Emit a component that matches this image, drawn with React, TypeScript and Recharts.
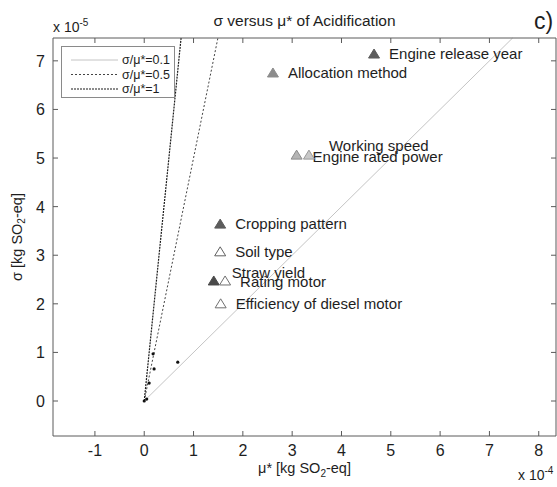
import {
  ScatterChart,
  Scatter,
  XAxis,
  YAxis,
  ReferenceLine,
} from "recharts";

// morris screening factors, mu* in 1e-4, sigma in 1e-5 kg SO2-eq
const factorNames = [
  "Engine release year",
  "Allocation method",
  "Engine rated power",
  "Working speed",
  "Cropping pattern",
  "Soil type",
  "Straw yield",
  "Rating motor",
  "Efficiency of diesel motor",
];
const muStar = [4.66, 2.61, 3.09, 3.34, 1.54, 1.54, 1.41, 1.64, 1.55];
const sigma = [7.14, 6.75, 5.06, 5.06, 3.64, 3.07, 2.47, 2.47, 2.0];

// unlabeled factors near the origin
const muSmall = [0, 0.05, 0.1, 0.18, 0.2, 0.68];
const sigmaSmall = [0, 0.04, 0.37, 0.97, 0.66, 0.8];

const ratios = [0.1, 0.5, 1];
const ratioLabels = ["σ/μ*=0.1", "σ/μ*=0.5", "σ/μ*=1"];

const xTicks = [-1, 0, 1, 2, 3, 4, 5, 6, 7, 8];
const yTicks = [0, 1, 2, 3, 4, 5, 6, 7];
const X_DOMAIN: [number, number] = [-1.85, 8.35];
const Y_DOMAIN: [number, number] = [-0.72, 7.47];

const FONT = "'Liberation Sans', Arial, sans-serif";
const AXIS = "#5a5a5a";
const TEXT = "#1e1e1e";

const markerStyle: Record<string, { fill: string; stroke: string }> = {
  "Engine release year": { fill: "#5c5c5c", stroke: "#5c5c5c" },
  "Allocation method": { fill: "#8c8c8c", stroke: "#8c8c8c" },
  "Engine rated power": { fill: "#b4b4b4", stroke: "#8c8c8c" },
  "Working speed": { fill: "#c8c8c8", stroke: "#9a9a9a" },
  "Cropping pattern": { fill: "#5c5c5c", stroke: "#5c5c5c" },
  "Soil type": { fill: "#ffffff", stroke: "#606060" },
  "Straw yield": { fill: "#4a4a4a", stroke: "#4a4a4a" },
  "Rating motor": { fill: "#ffffff", stroke: "#707070" },
  "Efficiency of diesel motor": { fill: "#ffffff", stroke: "#707070" },
};

// label offsets relative to the marker (px)
const labelOffset: Record<string, [number, number]> = {
  "Working speed": [20, -9],
  "Engine rated power": [16, 2],
  "Straw yield": [18, -8],
  "Rating motor": [15, 1],
};

const ratioStyle = [
  { stroke: "#c4c4c4", width: 1, dash: undefined },
  { stroke: "#444444", width: 1, dash: "2 2" },
  { stroke: "#1a1a1a", width: 1.2, dash: "2 1" },
];

const factorData = factorNames.map((name, i) => ({
  name,
  x: muStar[i],
  y: sigma[i],
}));
const smallData = muSmall.map((x, i) => ({ x, y: sigmaSmall[i] }));

const Triangle = (props: any) => {
  const { cx, cy, payload } = props;
  if (cx == null || cy == null) return null;
  const s = markerStyle[payload.name];
  const [dx, dy] = labelOffset[payload.name] || [15, 0];
  return (
    <g>
      <polygon
        points={`${cx},${cy - 5} ${cx - 5.5},${cy + 4} ${cx + 5.5},${cy + 4}`}
        fill={s.fill}
        stroke={s.stroke}
        strokeWidth={1}
      />
      <text
        x={cx + dx}
        y={cy + dy + 5}
        fontSize={15}
        fontFamily={FONT}
        fill={TEXT}
      >
        {payload.name}
      </text>
    </g>
  );
};

const Dot = (props: any) => {
  const { cx, cy } = props;
  if (cx == null || cy == null) return null;
  return <circle cx={cx} cy={cy} r={1.6} fill="#111" />;
};

const BottomTick = ({ x, y, payload }: any) => (
  <g>
    <line x1={x} y1={y} x2={x} y2={y - 5} stroke={AXIS} />
    <text
      x={x}
      y={y + 20}
      textAnchor="middle"
      fontSize={16}
      fontFamily={FONT}
      fill={TEXT}
    >
      {payload.value}
    </text>
  </g>
);
const TopTick = ({ x, y }: any) => (
  <line x1={x} y1={y} x2={x} y2={y + 5} stroke={AXIS} />
);
const LeftTick = ({ x, y, payload }: any) => (
  <g>
    <line x1={x} y1={y} x2={x + 5} y2={y} stroke={AXIS} />
    <text
      x={x - 8}
      y={y + 6}
      textAnchor="end"
      fontSize={16}
      fontFamily={FONT}
      fill={TEXT}
    >
      {payload.value}
    </text>
  </g>
);
const RightTick = ({ x, y }: any) => (
  <line x1={x} y1={y} x2={x - 5} y2={y} stroke={AXIS} />
);

export default function App() {
  const yTop = Y_DOMAIN[1];
  return (
    <div
      style={{
        position: "absolute",
        left: 0,
        top: 0,
        width: 557,
        height: 487,
        background: "#fff",
        fontFamily: FONT,
        color: TEXT,
      }}
    >
      <ScatterChart
        width={557}
        height={487}
        margin={{ top: 37, right: 0, bottom: 50, left: 52 }}
      >
        <XAxis
          xAxisId="b"
          type="number"
          dataKey="x"
          domain={X_DOMAIN}
          ticks={xTicks}
          allowDataOverflow
          height={1}
          tickSize={0}
          tickMargin={0}
          tickLine={false}
          axisLine={{ stroke: AXIS }}
          tick={BottomTick}
          interval={0}
        />
        <XAxis
          xAxisId="t"
          orientation="top"
          type="number"
          dataKey="x"
          domain={X_DOMAIN}
          ticks={xTicks}
          allowDataOverflow
          height={1}
          tickSize={0}
          tickMargin={0}
          tickLine={false}
          axisLine={{ stroke: AXIS }}
          tick={TopTick}
          interval={0}
        />
        <YAxis
          yAxisId="l"
          type="number"
          dataKey="y"
          domain={Y_DOMAIN}
          ticks={yTicks}
          allowDataOverflow
          width={1}
          tickSize={0}
          tickMargin={0}
          tickLine={false}
          axisLine={{ stroke: AXIS }}
          tick={LeftTick}
          interval={0}
        />
        <YAxis
          yAxisId="r"
          orientation="right"
          type="number"
          dataKey="y"
          domain={Y_DOMAIN}
          ticks={yTicks}
          allowDataOverflow
          width={1}
          tickSize={0}
          tickMargin={0}
          tickLine={false}
          axisLine={{ stroke: AXIS }}
          tick={RightTick}
          interval={0}
        />
        {ratios.map((r, i) => (
          <ReferenceLine
            key={r}
            xAxisId="b"
            yAxisId="l"
            segment={[
              { x: 0, y: 0 },
              { x: yTop / (r * 10), y: yTop },
            ]}
            stroke={ratioStyle[i].stroke}
            strokeWidth={ratioStyle[i].width}
            strokeDasharray={ratioStyle[i].dash}
            ifOverflow="visible"
          />
        ))}
        <Scatter
          xAxisId="b"
          yAxisId="l"
          data={smallData}
          shape={Dot}
          isAnimationActive={false}
        />
        <Scatter
          xAxisId="b"
          yAxisId="l"
          data={factorData}
          shape={Triangle}
          isAnimationActive={false}
        />
      </ScatterChart>

      {/* legend */}
      <div
        style={{
          position: "absolute",
          left: 61,
          top: 46,
          width: 112,
          height: 50,
          border: "1px solid #8a8a8a",
          background: "#fff",
        }}
      >
        <svg width={112} height={50}>
          {ratioLabels.map((lab, i) => (
            <g key={lab}>
              <line
                x1={9}
                x2={56}
                y1={13 + i * 14.5}
                y2={13 + i * 14.5}
                stroke={ratioStyle[i].stroke}
                strokeWidth={ratioStyle[i].width}
                strokeDasharray={ratioStyle[i].dash}
              />
              <text
                x={60}
                y={17 + i * 14.5}
                fontSize={12.5}
                fontFamily={FONT}
                fill={TEXT}
              >
                {lab}
              </text>
            </g>
          ))}
        </svg>
      </div>

      {/* title and annotations */}
      <div
        style={{
          position: "absolute",
          left: 53,
          width: 503,
          top: 12,
          textAlign: "center",
          fontSize: 15.5,
        }}
      >
        σ versus μ* of Acidification
      </div>
      <div style={{ position: "absolute", left: 534, top: 8, fontSize: 23 }}>
        c)
      </div>
      <div style={{ position: "absolute", left: 53, top: 17, fontSize: 14 }}>
        x 10<sup style={{ fontSize: 10 }}>-5</sup>
      </div>
      <div style={{ position: "absolute", left: 518, top: 465, fontSize: 14 }}>
        x 10<sup style={{ fontSize: 10 }}>-4</sup>
      </div>
      <div
        style={{
          position: "absolute",
          left: 53,
          width: 503,
          top: 460,
          textAlign: "center",
          fontSize: 14.5,
        }}
      >
        μ* [kg SO<sub style={{ fontSize: 10 }}>2</sub>-eq]
      </div>
      <div
        style={{
          position: "absolute",
          left: 18,
          top: 237,
          fontSize: 14.5,
          whiteSpace: "nowrap",
          transform: "translate(-50%, -50%) rotate(-90deg)",
        }}
      >
        σ [kg SO<sub style={{ fontSize: 10 }}>2</sub>-eq]
      </div>
    </div>
  );
}
